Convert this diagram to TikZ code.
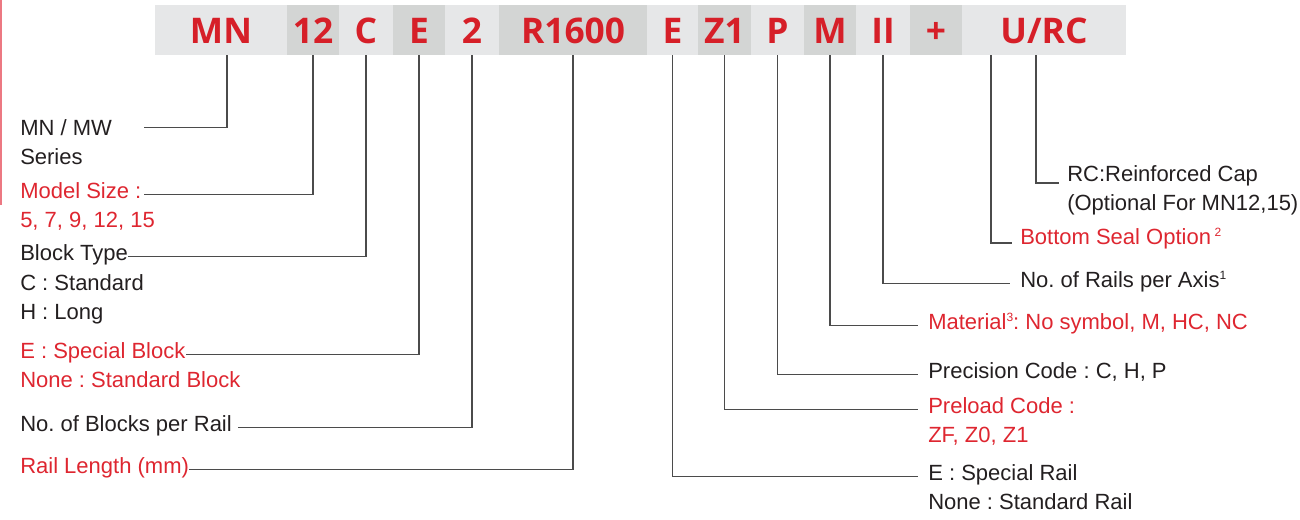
\documentclass[tikz,border=0pt]{standalone}
\usepackage{fontspec}
\setmainfont{Liberation Sans}
\newfontfamily\codefont{Open Sans}
\usetikzlibrary{calc,positioning}
\definecolor{codered}{RGB}{214,31,40}
\definecolor{labelred}{RGB}{222,38,48}
\definecolor{inkgray}{RGB}{35,31,32}
\definecolor{wiregray}{RGB}{75,75,75}
\definecolor{barlight}{RGB}{230,231,232}
\definecolor{bardark}{RGB}{211,213,212}
\definecolor{edgered}{RGB}{236,120,130}
\newcommand{\fnmark}[1]{\raisebox{6pt}{\fontsize{9}{9}\selectfont #1}}
\frenchspacing
\tikzset{
  seg/.style={rectangle,fill=#1,inner sep=0pt,minimum height=37.5pt,
              text height=19.5pt,text depth=0pt,text=codered,
              font=\codefont\bfseries\fontsize{26.5}{27}\selectfont},
  lbl/.style={inner sep=0pt,anchor=base west,text=inkgray,
              font=\fontsize{16.5}{20}\selectfont},
  redlbl/.style={lbl,text=labelred},
  wire/.style={draw=wiregray,line width=1.1pt},
}
\begin{document}
\begin{tikzpicture}[x=0.75pt,y=-0.75pt]
  \useasboundingbox (0,0) rectangle (1300,519);
  \draw[edgered,line width=1.2pt] (0.8,0) -- (0.8,205);

  % code bar
  \foreach \i/\l/\r/\c/\t in {1/155/287/barlight/MN,2/287/339/bardark/12,
      3/339/393/barlight/C,4/393/445/bardark/E,5/445/499/barlight/2,
      6/499/647/bardark/R1600,7/647/698/barlight/E,8/698/751/bardark/Z1,
      9/751/804/barlight/P,10/804/856/bardark/M,11/856/910/barlight/II,
      12/910/962/bardark/+,13/962/1126/barlight/{U/RC}}{
    \pgfmathsetmacro\w{(\r-\l)*0.75}
    \node[seg=\c,minimum width=\w pt] (seg\i) at ({(\l+\r)/2},30) {\t};
  }
  \coordinate (mnfoot) at ($(seg1.south)+(6,0)$);
  \coordinate (ufoot)  at ($(seg13.south)+(-53,0)$);
  \coordinate (rcfoot) at ($(seg13.south)+(-8,0)$);

  % left labels
  \node[lbl]    (series)  at (20,135) {MN / MW};
  \node[lbl]    (series2) at (20,164) {Series};
  \node[redlbl] (size)    at (20,198) {Model Size :};
  \node[redlbl] (size2)   at (20,227) {5, 7, 9, 12, 15};
  \node[lbl]    (btype)   at (20,260) {Block Type};
  \node[lbl]    (btype2)  at (20,290) {C : Standard};
  \node[lbl]    (btype3)  at (20,319) {H : Long};
  \node[redlbl] (eblock)  at (20,358) {E : Special Block};
  \node[redlbl] (eblock2) at (20,387) {None : Standard Block};
  \node[lbl]    (nblock)  at (20,431) {No. of Blocks per Rail};
  \node[redlbl] (rlen)    at (20,473) {Rail Length (mm)};

  % right labels
  \node[lbl]    (cap)     at (1067,181) {RC:Reinforced Cap};
  \node[lbl]    (cap2)    at (1067,210) {(Optional For MN12,15)};
  \node[redlbl] (seal)    at (1020,244) {Bottom Seal Option\,\fnmark{2}};
  \node[lbl]    (rails)   at (1020,287) {No. of Rails per Axis\fnmark{1}};
  \node[redlbl] (mat)     at (928,329)  {Material\fnmark{3}: No symbol, M, HC, NC};
  \node[lbl]    (prec)    at (928,378)  {Precision Code : C, H, P};
  \node[redlbl] (pre)     at (928,413)  {Preload Code :};
  \node[redlbl] (pre2)    at (928,442)  {ZF, Z0, Z1};
  \node[lbl]    (erail)   at (928,480)  {E : Special Rail};
  \node[lbl]    (erail2)  at (928,509)  {None : Standard Rail};

  \draw[wire] (mnfoot) |- ($(series.mid east)+(32,-4)$);
  \foreach \s/\n/\g in {2/size/2,3/btype/0,4/eblock/0,5/nblock/6,6/rlen/0}
    \draw[wire] (seg\s.south) |- ($(\n.mid east)+(\g,0)$);
  \foreach \s/\n in {7/erail,8/pre,9/prec,10/mat,11/rails}
    \draw[wire] (seg\s.south) |- ($(\n.mid west)+(-10,0)$);
  \draw[wire] (ufoot)  |- ($(seal.base west)+(-8,-1)$);
  \draw[wire] (rcfoot) |- ($(cap.base west)+(-8,2)$);
\end{tikzpicture}
\end{document}
